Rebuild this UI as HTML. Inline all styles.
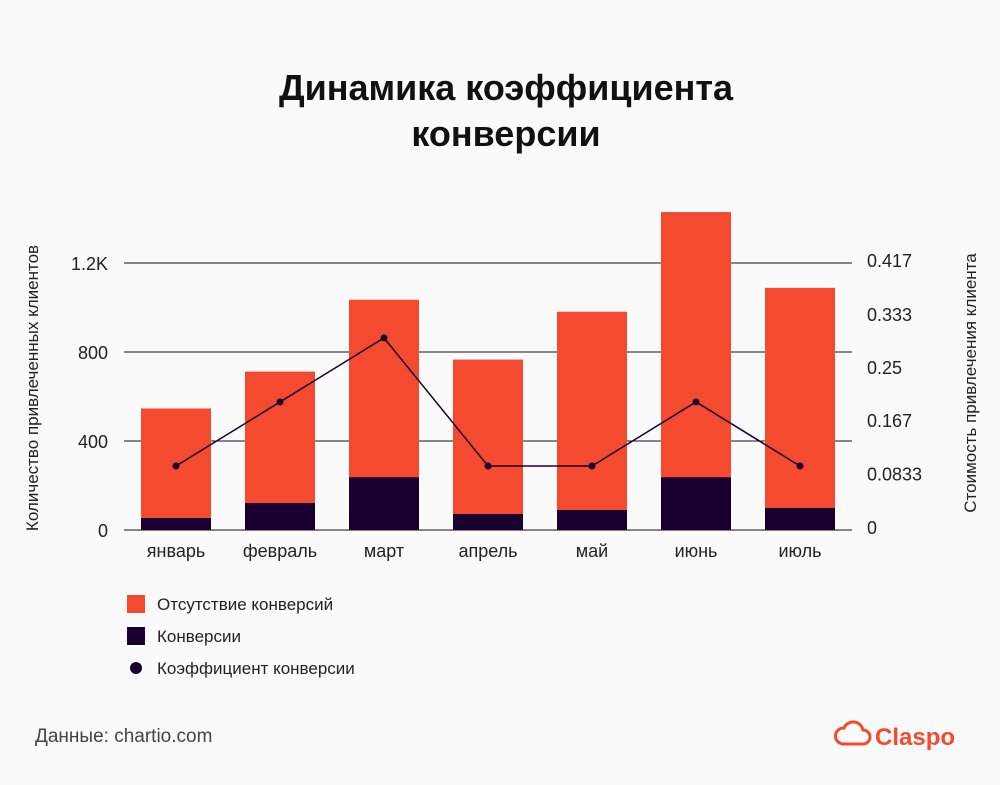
<!DOCTYPE html>
<html><head><meta charset="utf-8"><style>
body{margin:0;background:#fafafa;font-family:"Liberation Sans","Noto Sans CJK SC",sans-serif;}
svg text{font-family:"Liberation Sans","Noto Sans CJK SC",sans-serif;}
</style></head><body>
<svg id="c" width="1000" height="780">
<rect width="1000" height="780" fill="#fafafa"/>
<text x="506" y="100" text-anchor="middle" font-size="36" font-weight="bold" fill="#111">Динамика коэффициента</text>
<text x="506" y="146" text-anchor="middle" font-size="36" font-weight="bold" fill="#111">конверсии</text>
<g id="grid"></g><g id="bars"></g><g id="line"></g><g id="axes"></g>
<text transform="translate(38,388) rotate(-90)" text-anchor="middle" font-size="17" fill="#222">Количество привлеченных клиентов</text>
<text transform="translate(976,383) rotate(-90)" text-anchor="middle" font-size="17" fill="#222">Стоимость привлечения клиента</text>
<g>
<rect x="127" y="595" width="18" height="18" fill="#f44a2f"/>
<text x="157" y="610" font-size="17" fill="#222">Отсутствие конверсий</text>
<rect x="127" y="627" width="18" height="18" fill="#1a0030"/>
<text x="157" y="642" font-size="17" fill="#222">Конверсии</text>
<circle cx="136" cy="668" r="6" fill="#1a0030"/>
<text x="157" y="674" font-size="17" fill="#222">Коэффициент конверсии</text>
</g>
<text x="35" y="742" font-size="19" fill="#444">Данные: chartio.com</text>
<g>
<path d="M843 744 h20 a7 7 0 0 0 0-14 a10 10 0 0 0-19-2 a8 8 0 0 0-1 16z" fill="none" stroke="#f44a2f" stroke-width="3"/>
<text x="875" y="745" font-size="24" font-weight="bold" fill="#f44a2f">Claspo</text>
</g>
</svg>
<script>
const categories=["январь","февраль","март","апрель","май","июнь","июль"];
const totals=[546,712,1035,766,981,1429,1088];
const conversions=[54,121,237,72,90,237,99];
const rates=[0.1,0.2,0.3,0.1,0.1,0.2,0.1];
const leftTicks=[0,400,800,1200];
const leftTickLabels=["0","400","800","1.2K"];
const rightTicks=[0,0.0833,0.167,0.25,0.333,0.417];
const rightTickLabels=["0","0.0833","0.167","0.25","0.333","0.417"];
const NS="http://www.w3.org/2000/svg";
const y0=530,yTop=263,x0=124,x1=852;
const yL=v=>y0-(v/1200)*(y0-yTop);
const yR=v=>y0-(v/0.417)*(y0-yTop);
const xC=i=>176+i*104;
function mk(t,a,p){const e=document.createElementNS(NS,t);for(const k in a)e.setAttribute(k,a[k]);p.appendChild(e);return e;}
const g=document.getElementById('grid'),b=document.getElementById('bars'),l=document.getElementById('line'),ax=document.getElementById('axes');
leftTicks.forEach((v,i)=>{
 const ln=mk('line',{x1:x0,x2:x1,y1:yL(v),y2:yL(v),stroke:'#111','stroke-width':1},g);
 
 
 const t=mk('text',{x:108,y:yL(v)+7,'text-anchor':'end','font-size':18,fill:'#222'},ax);
 t.textContent=leftTickLabels[i];
 
 
});
rightTicks.forEach((v,i)=>{
 const t=mk('text',{x:867,y:yR(v)+4,'font-size':18,fill:'#222'},ax);
 t.textContent=rightTickLabels[i];
 
 
});
categories.forEach((c,i)=>{
 const r1=mk('rect',{x:xC(i)-35,y:yL(totals[i]),width:70,height:y0-yL(totals[i]),fill:'#f44a2f'},b);
 
 
 const r2=mk('rect',{x:xC(i)-35,y:yL(conversions[i]),width:70,height:y0-yL(conversions[i]),fill:'#1a0030'},b);
 
 
 const t=mk('text',{x:xC(i),y:557,'text-anchor':'middle','font-size':18,fill:'#222'},ax);
 t.textContent=c;
 
 
});
const pl=mk('polyline',{points:rates.map((v,i)=>xC(i)+','+yR(v)).join(' '),fill:'none',stroke:'#1a0030','stroke-width':1.5},l);


rates.forEach((v,i)=>{
 const c=mk('circle',{cx:xC(i),cy:yR(v),r:3.5,fill:'#1a0030'},l);
 
 
});
</script>
</body></html>
